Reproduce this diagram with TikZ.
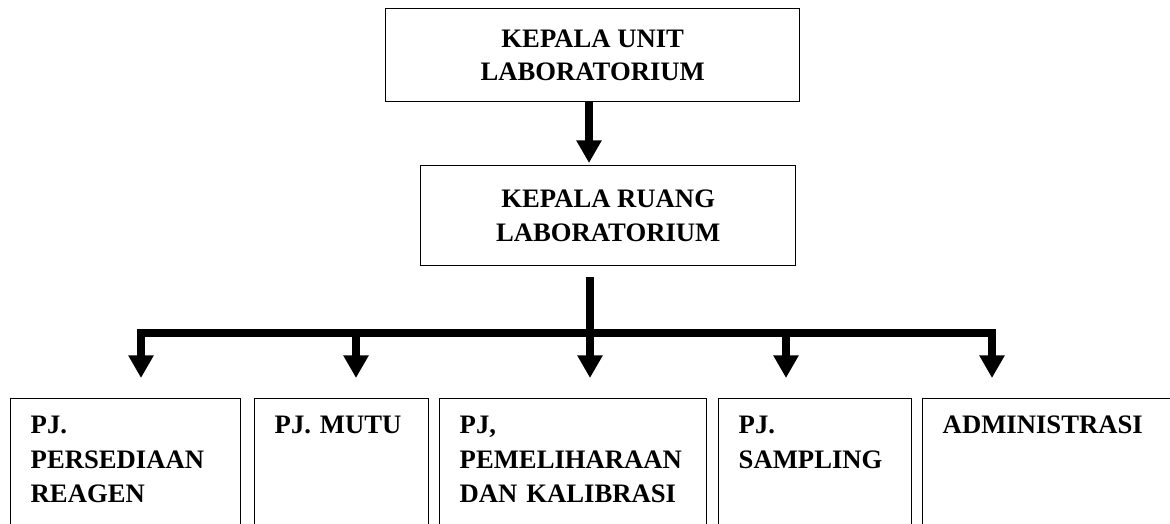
\documentclass[tikz,border=0pt]{standalone}
\usepackage{fontspec}
\setmainfont{Liberation Serif}
\usetikzlibrary{arrows.meta}

\begin{document}
\begin{tikzpicture}[x=0.75pt,y=-0.75pt,
	every node/.style={draw,line width=1.1pt,inner sep=0pt,anchor=north west},
	head/.style={align=center,font=\bfseries\fontsize{20}{25}\selectfont},
	unit/.style={align=left,inner xsep=15pt,text height=26pt,text depth=150pt,
		font=\bfseries\fontsize{20}{26}\selectfont},
	tip/.tip={Triangle[width=18pt,length=17pt]},
	arr/.style={line width=6pt,-tip}]
				%page frame, bottom boxes run past it
				\useasboundingbox (0,0) rectangle (1170,524);
				\clip (0,0) rectangle (1170,524);
				%% the two heads placed by hand
				\node[head,minimum width=310.5pt,minimum height=69.75pt] (kul) at (385,8)
					{KEPALA UNIT\\LABORATORIUM};
				\node[head,minimum width=281.25pt,minimum height=75pt] (kru) at (420,165)
					{KEPALA RUANG\\LABORATORIUM};
				%% the five units in a row
				\node[unit,text width=142.5pt] (pr) at (10,398) {PJ.\\PERSEDIAAN\\REAGEN};
				\node[unit,text width=100.5pt] (pm) at (254,398) {PJ. MUTU};
				\node[unit,text width=170.25pt] (pk) at (439,398) {PJ,\\PEMELIHARAAN\\DAN KALIBRASI};
				\node[unit,text width=114.75pt] (ps) at (718,398) {PJ.\\SAMPLING};
				\node[unit,text width=172.5pt] (ad) at (922,398) {ADMINISTRASI};

				\coordinate (trunk) at (589,0);
				\coordinate (joint) at (590,333);
				\coordinate (barL) at (141,333);
				\coordinate (barR) at (992,333);
				\coordinate (dpm) at (356,333);
				\coordinate (dps) at (786,333);

				\draw[arr,shorten >=1.5pt] (kul.south -| trunk)--(kru.north -| trunk);
				\draw[arr,shorten >=15pt] ([yshift=-8pt]kru.south -| joint)--(joint |- pk.north);
				\draw[line width=6pt,tip-tip,shorten <=15pt,shorten >=15pt]
					(barL |- pr.north)--(barL)--(barR)--(barR |- ad.north);
				\foreach \n in {pm, ps}{
					\draw[arr,shorten >=15pt] (d\n)--(d\n |- \n.north);
					}
				\end{tikzpicture}
\end{document}
